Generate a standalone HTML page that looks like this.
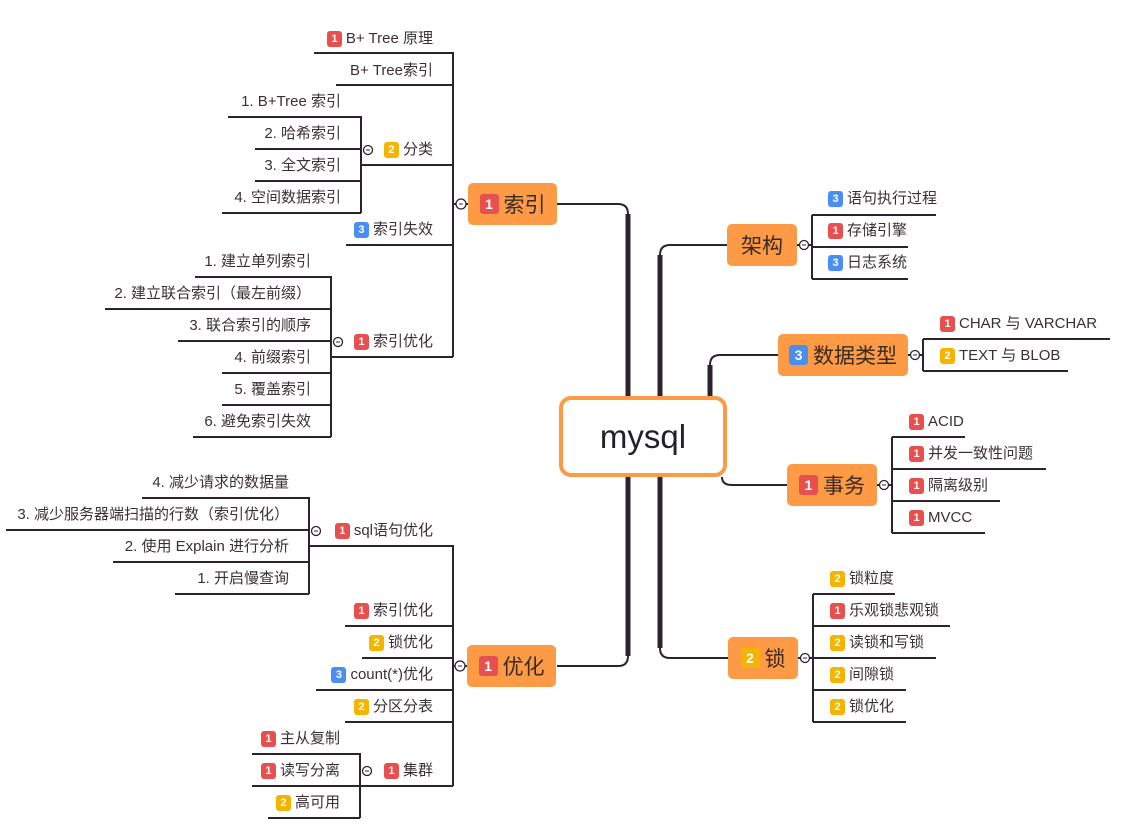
<!DOCTYPE html>
<html><head><meta charset="utf-8"><style>
body{margin:0;width:1131px;height:825px;background:#fff;position:relative;overflow:hidden;font-family:"Liberation Sans","Noto Sans CJK SC",sans-serif;color:#3a3034}
svg{position:absolute;left:0;top:0}
.t{position:absolute;font-size:15px;line-height:20px;white-space:nowrap;display:flex;align-items:center}
.b{display:inline-block;width:15px;height:16px;border-radius:3px;color:#fff;font-size:11px;font-weight:bold;line-height:16px;text-align:center;margin-right:4px}
.r{background:#e84f4f}.y{background:#f5b400}.u{background:#4a8ef2}
.n{position:absolute;background:#fd9a45;border-radius:5px;font-size:21px;display:flex;align-items:center;justify-content:center;color:#3a2a22}
.n .b{width:19px;height:20px;line-height:20px;font-size:14px;margin-right:5px}
</style></head><body>
<svg width="1131" height="825" fill="none" stroke="#2b2430" stroke-width="2">
<path d="M314,53H453V357M336,85H453M361,165H453M346,245H453M331,357H453"/>
<path d="M228,117H361V213M255,149H361M255,181H361M222,213H361"/>
<path d="M195,277H331V437M105,309H331M178,341H331M222,373H331M222,405H331M193,437H331"/>
<path d="M309,546H453V786M345,626H453M362,658H453M316,690H453M345,722H453M360,786H453"/>
<path d="M142,498H309V594M6,530H309M113,562H309M175,594H309"/>
<path d="M252,754H360V818M252,786H360M268,818H360"/>
<path d="M453,204H468M453,666H467"/>
<path d="M557,204H618Q628,204 628,214V396M628,477V656Q628,666 618,666H557"/>
<path d="M628,214V396M628,477V656" stroke-width="5"/>
<path d="M727,245H670Q660,245 660,255V396M660,477V648Q660,658 670,658H728"/>
<path d="M660,255V396M660,477V648" stroke-width="5"/>
<path d="M778,355H720Q710,355 710,365V396"/>
<path d="M710,365V396" stroke-width="5"/>
<path d="M722,477Q722,485 732,485H787"/>
<path d="M797,245H812M812,215V279M812,215H936M812,247H908M812,279H908"/>
<path d="M908,355H923M923,339V371M923,339H1110M923,371H1068"/>
<path d="M877,485H892M892,437V533M892,437H965M892,469H1046M892,501H1000M892,533H985"/>
<path d="M798,658H813M813,594V722M813,594H895M813,626H950M813,658H936M813,690H906M813,722H906"/>
<g fill="#fff" stroke-width="1.3">
<circle cx="461" cy="204" r="5"/><circle cx="368" cy="150" r="4.5"/><circle cx="338" cy="342" r="4.5"/>
<circle cx="460" cy="666" r="5"/><circle cx="316" cy="531" r="4.5"/><circle cx="367" cy="771" r="4.5"/>
<circle cx="804" cy="245" r="4.5"/><circle cx="915" cy="355" r="4.5"/><circle cx="884" cy="485" r="4.5"/><circle cx="805" cy="658" r="4.5"/>
</g>
<g stroke-width="1"><path d="M459,204h4M458,666h4M366,150h4M336,342h4M314,531h4M365,771h4M802,245h4M913,355h4M882,485h4M803,658h4"/></g>
<rect x="561" y="398" width="164" height="77" rx="10" fill="#fff" stroke="#fd9a45" stroke-width="4"/>
</svg>
<div style="position:absolute;left:561px;top:398px;width:164px;height:77px;display:flex;align-items:center;justify-content:center;font-size:33px;color:#22202a">mysql</div>

<div class="n" style="left:468px;top:183px;width:89px;height:42px"><span class="b r">1</span>索引</div>
<div class="n" style="left:467px;top:645px;width:89px;height:42px"><span class="b r">1</span>优化</div>
<div class="n" style="left:727px;top:224px;width:70px;height:42px">架构</div>
<div class="n" style="left:778px;top:334px;width:130px;height:42px"><span class="b u">3</span>数据类型</div>
<div class="n" style="left:787px;top:464px;width:90px;height:42px"><span class="b r">1</span>事务</div>
<div class="n" style="left:728px;top:637px;width:70px;height:42px"><span class="b y">2</span>锁</div>

<div class="t" style="right:698px;top:29px"><span class="b r">1</span>B+ Tree 原理</div>
<div class="t" style="right:698px;top:61px">B+ Tree索引</div>
<div class="t" style="right:698px;top:140px"><span class="b y">2</span>分类</div>
<div class="t" style="right:698px;top:220px"><span class="b u">3</span>索引失效</div>
<div class="t" style="right:698px;top:332px"><span class="b r">1</span>索引优化</div>
<div class="t" style="right:790px;top:92px">1. B+Tree 索引</div>
<div class="t" style="right:790px;top:124px">2. 哈希索引</div>
<div class="t" style="right:790px;top:156px">3. 全文索引</div>
<div class="t" style="right:790px;top:188px">4. 空间数据索引</div>
<div class="t" style="right:820px;top:252px">1. 建立单列索引</div>
<div class="t" style="right:820px;top:284px">2. 建立联合索引（最左前缀）</div>
<div class="t" style="right:820px;top:316px">3. 联合索引的顺序</div>
<div class="t" style="right:820px;top:348px">4. 前缀索引</div>
<div class="t" style="right:820px;top:380px">5. 覆盖索引</div>
<div class="t" style="right:820px;top:412px">6. 避免索引失效</div>

<div class="t" style="right:698px;top:521px"><span class="b r">1</span>sql语句优化</div>
<div class="t" style="right:698px;top:601px"><span class="b r">1</span>索引优化</div>
<div class="t" style="right:698px;top:633px"><span class="b y">2</span>锁优化</div>
<div class="t" style="right:698px;top:665px"><span class="b u">3</span>count(*)优化</div>
<div class="t" style="right:698px;top:697px"><span class="b y">2</span>分区分表</div>
<div class="t" style="right:698px;top:761px"><span class="b r">1</span>集群</div>
<div class="t" style="right:842px;top:473px">4. 减少请求的数据量</div>
<div class="t" style="right:842px;top:505px">3. 减少服务器端扫描的行数（索引优化）</div>
<div class="t" style="right:842px;top:537px">2. 使用 Explain 进行分析</div>
<div class="t" style="right:842px;top:569px">1. 开启慢查询</div>
<div class="t" style="right:791px;top:729px"><span class="b r">1</span>主从复制</div>
<div class="t" style="right:791px;top:761px"><span class="b r">1</span>读写分离</div>
<div class="t" style="right:791px;top:793px"><span class="b y">2</span>高可用</div>

<div class="t" style="left:828px;top:189px"><span class="b u">3</span>语句执行过程</div>
<div class="t" style="left:828px;top:221px"><span class="b r">1</span>存储引擎</div>
<div class="t" style="left:828px;top:253px"><span class="b u">3</span>日志系统</div>
<div class="t" style="left:940px;top:314px"><span class="b r">1</span>CHAR 与 VARCHAR</div>
<div class="t" style="left:940px;top:346px"><span class="b y">2</span>TEXT 与 BLOB</div>
<div class="t" style="left:909px;top:412px"><span class="b r">1</span>ACID</div>
<div class="t" style="left:909px;top:444px"><span class="b r">1</span>并发一致性问题</div>
<div class="t" style="left:909px;top:476px"><span class="b r">1</span>隔离级别</div>
<div class="t" style="left:909px;top:508px"><span class="b r">1</span>MVCC</div>
<div class="t" style="left:830px;top:569px"><span class="b y">2</span>锁粒度</div>
<div class="t" style="left:830px;top:601px"><span class="b r">1</span>乐观锁悲观锁</div>
<div class="t" style="left:830px;top:633px"><span class="b y">2</span>读锁和写锁</div>
<div class="t" style="left:830px;top:665px"><span class="b y">2</span>间隙锁</div>
<div class="t" style="left:830px;top:697px"><span class="b y">2</span>锁优化</div>
</body></html>
